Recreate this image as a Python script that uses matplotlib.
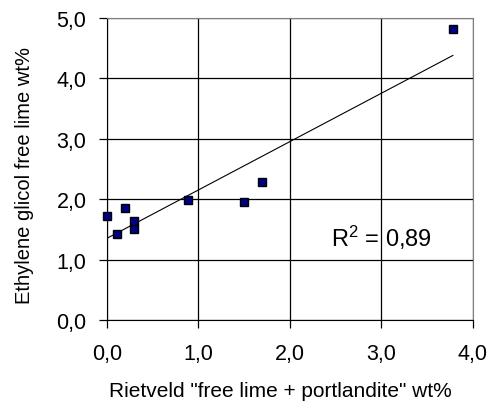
import numpy as np
import matplotlib
matplotlib.use('Agg')
import matplotlib.pyplot as plt

plt.rcParams['font.family'] = ['Liberation Sans', 'DejaVu Sans']
plt.rcParams['mathtext.fontset'] = 'custom'
plt.rcParams['mathtext.rm'] = 'Liberation Sans'
plt.rcParams['mathtext.it'] = 'Liberation Sans'

# leitura aproximada do gráfico original
rietveld = [0.0, 0.11, 0.20, 0.30, 0.30, 0.89, 1.50, 1.69, 3.78]
glicol = [1.73, 1.43, 1.86, 1.64, 1.50, 1.99, 1.96, 2.28, 4.81]
xticks = [0, 1, 2, 3, 4]
yticks = [0, 1, 2, 3, 4, 5]

def virgula(v, pos=None):
    return f"{v:.1f}".replace(".", ",")

W, H = 489, 402
fig = plt.figure(figsize=(W / 100, H / 100), dpi=100)
ax = fig.add_axes([107 / W, (H - 321) / H, 366 / W, 302 / H])

ax.set_xlim(0, 4)
ax.set_ylim(0, 5)
ax.set_xticks(xticks)
ax.set_yticks(yticks)
ax.xaxis.set_major_formatter(matplotlib.ticker.FuncFormatter(virgula))
ax.yaxis.set_major_formatter(matplotlib.ticker.FuncFormatter(virgula))
ax.grid(True, color="black", linewidth=0.9)
ax.set_axisbelow(True)

# linha de tendência (regressão linear)
a, b = np.polyfit(rietveld, glicol, 1)
xs = np.array([0.0, max(rietveld)])
ax.plot(xs, a * xs + b, color="black", linewidth=0.8, zorder=3)

ax.plot(rietveld, glicol, "s", color="#000080", markeredgecolor="black",
        markeredgewidth=1.0, markersize=6.3, zorder=4, clip_on=False)

ax.text(2.45, 1.23, r"R$^\mathrm{2}$ = 0,89", fontsize=17, va="baseline")

for lado in ["top", "right"]:
    ax.spines[lado].set_color("#808080")
for lado in ["left", "bottom"]:
    ax.spines[lado].set_color("black")
ax.tick_params(direction="out", length=5.8, width=0.9, labelsize=15.5)
ax.tick_params(axis="x", pad=11)
ax.tick_params(axis="y", pad=9)

fig.text(280 / W, (H - 397) / H, 'Rietveld "free lime + portlandite" wt%',
         fontsize=15, ha="center", va="baseline")
fig.text(25 / W, (H - 175) / H, "Ethylene glicol free lime wt%",
         fontsize=14.5, rotation=90, ha="center", va="center")

fig.savefig("out.png", dpi=100)
